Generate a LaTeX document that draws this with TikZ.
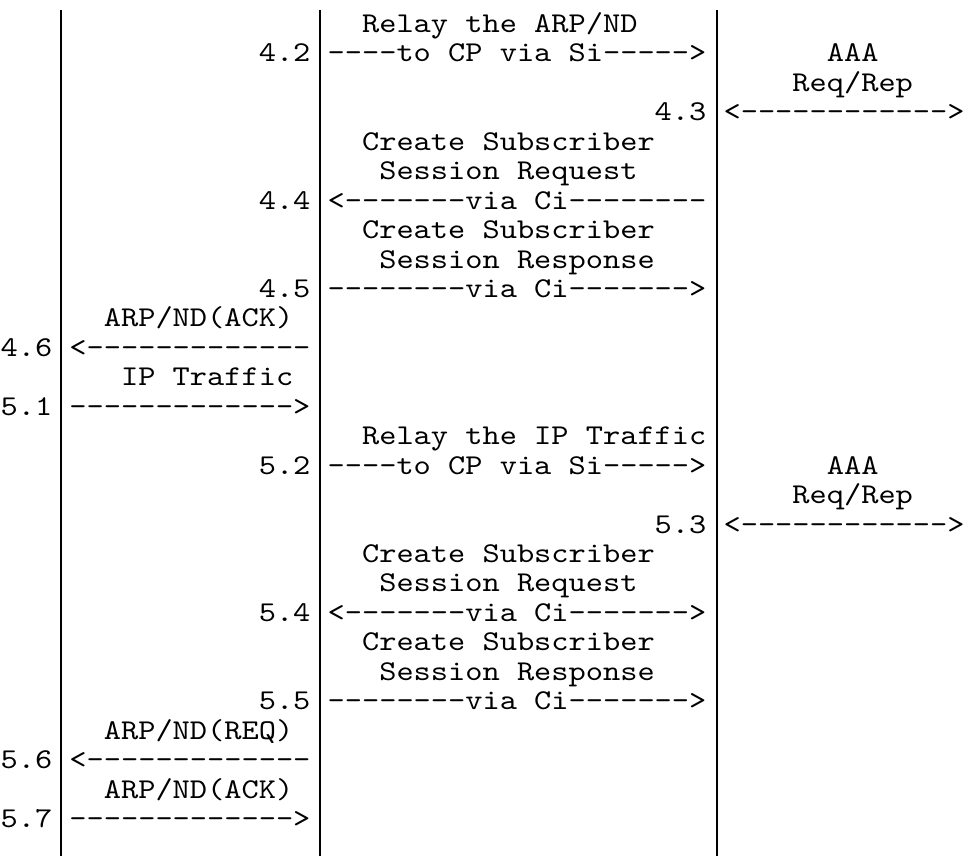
\documentclass[tikz,border=0pt]{standalone}
\usepackage{fontspec}
\newfontfamily\asciifont[FakeStretch=1.142857,Ligatures=TeXOff]{lmmono10-regular.otf}
\begin{document}
\begin{tikzpicture}[x=6pt,y=-10.265pt,
  txt/.style={anchor=base west, inner sep=0pt, font=\asciifont\fontsize{10}{10}\selectfont},
  life/.style={line width=0.65pt}]
\useasboundingbox (0,0) rectangle (56,29.07);
\coordinate (ltop) at (3.55,0.34);
\coordinate (lbot) at (3.55,29.07);
\coordinate (mtop) at (18.6,0.34);
\coordinate (mbot) at (18.6,29.07);
\coordinate (rtop) at (41.65,0.34);
\coordinate (rbot) at (41.65,29.07);
\draw[life] (ltop) -- (lbot);
\draw[life] (mtop) -- (mbot);
\draw[life] (rtop) -- (rbot);
\node[txt] (t41) at (21,1.1) {Relay the ARP/ND};
\node[txt] (n42) at (15,2.1) {4.2};
\node[txt] (a42) at (19,2.1) {----to CP via Si----->};
\node[txt] (aaa4) at (48,2.1) {AAA};
\node[txt] (rr4) at (46,3.1) {Req/Rep};
\node[txt] (n43) at (38,4.1) {4.3};
\node[txt] (a43) at (42,4.1) {<------------>};
\node[txt] (c44) at (21,5.1) {Create Subscriber};
\node[txt] (s44) at (22,6.1) {Session Request};
\node[txt] (n44) at (15,7.1) {4.4};
\node[txt] (a44) at (19,7.1) {<-------via Ci--------};
\node[txt] (c45) at (21,8.1) {Create Subscriber};
\node[txt] (s45) at (22,9.1) {Session Response};
\node[txt] (n45) at (15,10.1) {4.5};
\node[txt] (a45) at (19,10.1) {--------via Ci------->};
\node[txt] (t46) at (6,11.1) {ARP/ND(ACK)};
\node[txt] (n46) at (0,12.1) {4.6};
\node[txt] (a46) at (4,12.1) {<-------------};
\node[txt] (t51) at (7,13.1) {IP Traffic};
\node[txt] (n51) at (0,14.1) {5.1};
\node[txt] (a51) at (4,14.1) {------------->};
\node[txt] (t52) at (21,15.1) {Relay the IP Traffic};
\node[txt] (n52) at (15,16.1) {5.2};
\node[txt] (a52) at (19,16.1) {----to CP via Si----->};
\node[txt] (aaa5) at (48,16.1) {AAA};
\node[txt] (rr5) at (46,17.1) {Req/Rep};
\node[txt] (n53) at (38,18.1) {5.3};
\node[txt] (a53) at (42,18.1) {<------------>};
\node[txt] (c54) at (21,19.1) {Create Subscriber};
\node[txt] (s54) at (22,20.1) {Session Request};
\node[txt] (n54) at (15,21.1) {5.4};
\node[txt] (a54) at (19,21.1) {<-------via Ci------->};
\node[txt] (c55) at (21,22.1) {Create Subscriber};
\node[txt] (s55) at (22,23.1) {Session Response};
\node[txt] (n55) at (15,24.1) {5.5};
\node[txt] (a55) at (19,24.1) {--------via Ci------->};
\node[txt] (t56) at (6,25.1) {ARP/ND(REQ)};
\node[txt] (n56) at (0,26.1) {5.6};
\node[txt] (a56) at (4,26.1) {<-------------};
\node[txt] (t57) at (6,27.1) {ARP/ND(ACK)};
\node[txt] (n57) at (0,28.1) {5.7};
\node[txt] (a57) at (4,28.1) {------------->};

\end{tikzpicture}
\end{document}
